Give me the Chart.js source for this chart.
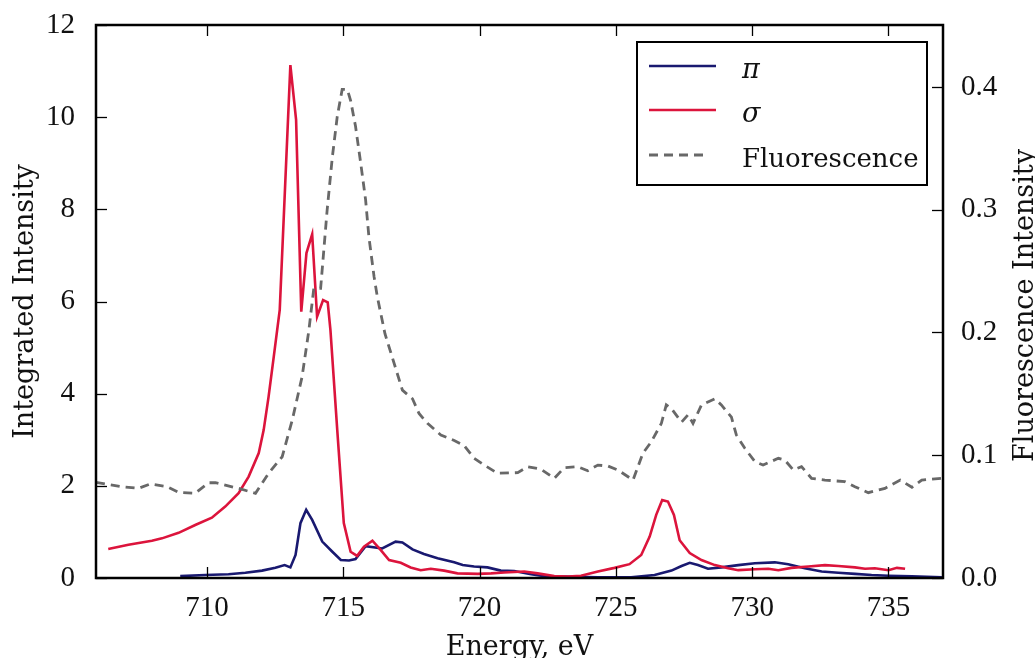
<!DOCTYPE html>
<html>
<head>
<meta charset="utf-8">
<script src="https://cdn.jsdelivr.net/npm/chart.js@4/dist/chart.umd.min.js"></script>
<style>
  body { margin: 0; background: #fff; }
  #wrap { width: 1035px; height: 658px; }
</style>
</head>
<body>
<div id="wrap"><canvas id="chart" width="1035" height="658"></canvas></div>
<script>
// Data
const piEnergy = [709.02, 709.94, 710.79, 711.41, 712.02, 712.51, 712.85, 713.06, 713.25, 713.43, 713.64, 713.86, 714.23, 714.60, 714.91, 715.21, 715.45, 715.82, 716.43, 716.92, 717.17, 717.54, 717.96, 718.46, 719.07, 719.38, 719.80, 720.29, 720.78, 721.27, 721.89, 722.50, 723.11, 724.34, 725.56, 726.42, 727.04, 727.41, 727.71, 728.01, 728.38, 728.87, 729.49, 730.10, 730.83, 731.32, 731.93, 732.55, 733.16, 733.77, 734.38, 735.00, 735.86, 736.96];
const piIntensity = [0.04, 0.065, 0.08, 0.115, 0.16, 0.22, 0.28, 0.23, 0.50, 1.19, 1.48, 1.26, 0.79, 0.57, 0.39, 0.38, 0.41, 0.69, 0.64, 0.79, 0.77, 0.62, 0.52, 0.43, 0.34, 0.28, 0.25, 0.23, 0.16, 0.15, 0.08, 0.03, 0.03, 0.015, 0.015, 0.065, 0.16, 0.26, 0.33, 0.28, 0.20, 0.23, 0.28, 0.32, 0.34, 0.30, 0.21, 0.14, 0.115, 0.09, 0.065, 0.05, 0.037, 0.015];

const sigmaEnergy = [706.38, 707.12, 707.98, 708.35, 708.96, 709.57, 710.18, 710.67, 711.16, 711.53, 711.90, 712.08, 712.26, 712.45, 712.67, 713.06, 713.27, 713.46, 713.65, 713.86, 714.04, 714.26, 714.43, 714.53, 714.78, 715.02, 715.27, 715.51, 715.76, 716.07, 716.37, 716.68, 717.11, 717.47, 717.84, 718.21, 718.70, 719.19, 719.93, 720.42, 720.90, 721.64, 722.13, 722.74, 723.24, 723.72, 724.34, 724.95, 725.50, 725.93, 726.24, 726.48, 726.70, 726.91, 727.13, 727.34, 727.71, 728.14, 728.63, 729.12, 729.49, 730.10, 730.59, 730.96, 731.44, 732.06, 732.67, 733.16, 733.77, 734.14, 734.50, 735.00, 735.31, 735.61];
const sigmaIntensity = [0.63, 0.72, 0.81, 0.86, 0.98, 1.15, 1.31, 1.55, 1.84, 2.20, 2.71, 3.21, 3.93, 4.80, 5.82, 11.13, 9.94, 5.78, 7.05, 7.46, 5.67, 6.03, 5.98, 5.38, 3.21, 1.19, 0.57, 0.48, 0.68, 0.81, 0.61, 0.39, 0.33, 0.23, 0.17, 0.20, 0.16, 0.10, 0.09, 0.10, 0.12, 0.14, 0.10, 0.04, 0.03, 0.05, 0.14, 0.22, 0.30, 0.50, 0.90, 1.37, 1.69, 1.66, 1.37, 0.82, 0.54, 0.39, 0.28, 0.21, 0.17, 0.19, 0.20, 0.17, 0.22, 0.25, 0.28, 0.26, 0.23, 0.20, 0.21, 0.17, 0.22, 0.20];

const fluoEnergy = [705.93, 706.26, 706.88, 707.49, 707.92, 708.53, 708.96, 709.57, 710.06, 710.31, 711.16, 711.78, 712.26, 712.76, 713.13, 713.49, 713.74, 713.92, 714.17, 714.41, 714.60, 714.78, 714.96, 715.15, 715.27, 715.45, 715.64, 715.82, 715.94, 716.13, 716.25, 716.53, 717.17, 717.54, 717.78, 718.09, 718.58, 719.07, 719.43, 719.80, 720.17, 720.66, 721.40, 721.76, 722.25, 722.74, 723.11, 723.60, 723.97, 724.34, 724.71, 725.07, 725.63, 725.99, 726.30, 726.67, 726.85, 727.04, 727.41, 727.65, 727.83, 728.14, 728.63, 728.87, 729.24, 729.42, 729.73, 730.10, 730.40, 730.96, 731.20, 731.51, 731.81, 732.18, 732.67, 733.40, 733.77, 734.26, 734.87, 735.43, 735.86, 736.22, 736.96];
const fluoIntensity = [0.078, 0.0766, 0.0744, 0.073, 0.0766, 0.0744, 0.0698, 0.069, 0.0776, 0.0776, 0.073, 0.069, 0.0853, 0.0988, 0.1287, 0.164, 0.202, 0.236, 0.236, 0.300, 0.343, 0.376, 0.398, 0.398, 0.389, 0.368, 0.338, 0.308, 0.278, 0.2455, 0.229, 0.199, 0.153, 0.146, 0.134, 0.126, 0.1165, 0.112, 0.108, 0.0975, 0.092, 0.0853, 0.0858, 0.0907, 0.0886, 0.0812, 0.0899, 0.0907, 0.0874, 0.092, 0.0912, 0.088, 0.0798, 0.1016, 0.111, 0.126, 0.141, 0.138, 0.127, 0.133, 0.126, 0.141, 0.146, 0.141, 0.131, 0.1165, 0.1057, 0.0948, 0.092, 0.0975, 0.096, 0.088, 0.0907, 0.0812, 0.0798, 0.0785, 0.0744, 0.0695, 0.073, 0.0798, 0.0739, 0.0798, 0.0812];

const xTicks = [710, 715, 720, 725, 730, 735];
const yTicks = [0, 2, 4, 6, 8, 10, 12];
const y2Ticks = [0, 0.1, 0.2, 0.3, 0.4];

const legendLabels = ['\u03C0', '\u03C3', 'Fluorescence'];

const NUM_FONT = 'Liberation Serif';
const TEXT_FONT = 'DejaVu Serif';

function toPoints(xs, ys) {
  return xs.map((x, i) => ({ x, y: ys[i] }));
}

// fixed axis boxes so the plot area sits where the reference has it
function fixWidth(w) {
  return s => { s.width = w; s.paddingTop = 0; s.paddingBottom = 0; };
}

// frame, inward ticks, axis titles and the boxed legend
const decorations = {
  id: 'decorations',
  afterDraw(chart) {
    const { ctx, chartArea: a, scales } = chart;
    const tickLen = 11;
    ctx.save();
    ctx.strokeStyle = '#000';
    ctx.lineWidth = 1.3;
    const seg = (x1, y1, x2, y2) => {
      ctx.beginPath(); ctx.moveTo(x1, y1); ctx.lineTo(x2, y2); ctx.stroke();
    };
    scales.x.ticks.forEach(t => {
      const px = Math.round(scales.x.getPixelForValue(t.value)) + 0.5;
      seg(px, a.bottom, px, a.bottom - tickLen);
      seg(px, a.top, px, a.top + tickLen);
    });
    scales.y.ticks.forEach(t => {
      const py = Math.round(scales.y.getPixelForValue(t.value)) + 0.5;
      seg(a.left, py, a.left + tickLen, py);
    });
    scales.y2.ticks.forEach(t => {
      const py = Math.round(scales.y2.getPixelForValue(t.value)) + 0.5;
      seg(a.right, py, a.right - tickLen, py);
    });

    ctx.lineWidth = 2.5;
    ctx.strokeRect(a.left, a.top, a.right - a.left, a.bottom - a.top);

    // axis titles
    ctx.fillStyle = '#111';
    ctx.font = `27px "${TEXT_FONT}"`;
    ctx.textAlign = 'center';
    ctx.textBaseline = 'alphabetic';
    ctx.fillText('Energy, eV', (a.left + a.right) / 2, 655);

    ctx.save();
    ctx.translate(33, (a.top + a.bottom) / 2);
    ctx.rotate(-Math.PI / 2);
    ctx.fillText('Integrated Intensity', 0, 0);
    ctx.restore();

    ctx.save();
    ctx.translate(1033, (a.top + a.bottom) / 2 + 4);
    ctx.rotate(-Math.PI / 2);
    ctx.fillText('Fluorescence Intensity', 0, 0);
    ctx.restore();

    // legend
    const lx = 637, ly = 42, lw = 290, lh = 143;
    ctx.fillStyle = '#fff';
    ctx.fillRect(lx, ly, lw, lh);
    ctx.lineWidth = 2;
    ctx.strokeStyle = '#000';
    ctx.strokeRect(lx, ly, lw, lh);

    const rowY = [66, 110, 155];
    chart.data.datasets.forEach((ds, i) => {
      ctx.save();
      ctx.strokeStyle = ds.borderColor;
      ctx.lineWidth = ds.borderWidth;
      ctx.setLineDash(ds.borderDash || []);
      const x2 = ds.borderDash ? 707 : 716;
      seg(649, rowY[i], x2, rowY[i]);
      ctx.restore();
      ctx.fillStyle = '#111';
      ctx.textAlign = 'left';
      ctx.textBaseline = 'alphabetic';
      ctx.font = i < 2 ? `italic 27px "${TEXT_FONT}"` : `26px "${TEXT_FONT}"`;
      ctx.fillText(ds.label, 742, rowY[i] + 11.5);
    });
    ctx.restore();
  }
};

const ctx = document.getElementById('chart').getContext('2d');
new Chart(ctx, {
  type: 'line',
  data: {
    datasets: [
      {
        label: legendLabels[0],
        data: toPoints(piEnergy, piIntensity),
        borderColor: '#191970',
        borderWidth: 2.6,
        yAxisID: 'y',
        order: 2
      },
      {
        label: legendLabels[1],
        data: toPoints(sigmaEnergy, sigmaIntensity),
        borderColor: '#dc143c',
        borderWidth: 2.6,
        yAxisID: 'y',
        order: 1
      },
      {
        label: legendLabels[2],
        data: toPoints(fluoEnergy, fluoIntensity),
        borderColor: '#686868',
        borderWidth: 2.8,
        borderDash: [9, 6],
        yAxisID: 'y2',
        order: 0
      }
    ]
  },
  options: {
    responsive: false,
    animation: false,
    devicePixelRatio: 1,
    layout: { padding: { top: 25, left: 0, right: 0, bottom: 0 } },
    elements: {
      point: { radius: 0, hoverRadius: 0 },
      line: { tension: 0, fill: false }
    },
    plugins: {
      legend: { display: false },
      title: { display: false },
      tooltip: { enabled: false }
    },
    scales: {
      x: {
        type: 'linear',
        position: 'bottom',
        min: 705.93,
        max: 737.0,
        afterBuildTicks: s => { s.ticks = xTicks.map(v => ({ value: v })); },
        afterFit: s => { s.height = 80; s.paddingLeft = 0; s.paddingRight = 0; },
        grid: { display: false },
        border: { display: false },
        ticks: {
          padding: 5,
          color: '#111',
          font: { family: NUM_FONT, size: 29 },
          maxRotation: 0,
          callback: v => String(v)
        }
      },
      y: {
        type: 'linear',
        position: 'left',
        min: 0,
        max: 12,
        afterBuildTicks: s => { s.ticks = yTicks.map(v => ({ value: v })); },
        afterFit: fixWidth(96),
        grid: { display: false },
        border: { display: false },
        ticks: {
          padding: 13,
          color: '#111',
          font: { family: NUM_FONT, size: 29 },
          callback: v => String(v)
        }
      },
      y2: {
        type: 'linear',
        position: 'right',
        min: 0,
        max: 0.4505,
        afterBuildTicks: s => { s.ticks = y2Ticks.map(v => ({ value: v })); },
        afterFit: fixWidth(92),
        grid: { display: false },
        border: { display: false },
        ticks: {
          padding: 10,
          color: '#111',
          font: { family: NUM_FONT, size: 29 },
          callback: v => Number(v).toFixed(1)
        }
      }
    }
  },
  plugins: [decorations]
});
</script>
</body>
</html>
